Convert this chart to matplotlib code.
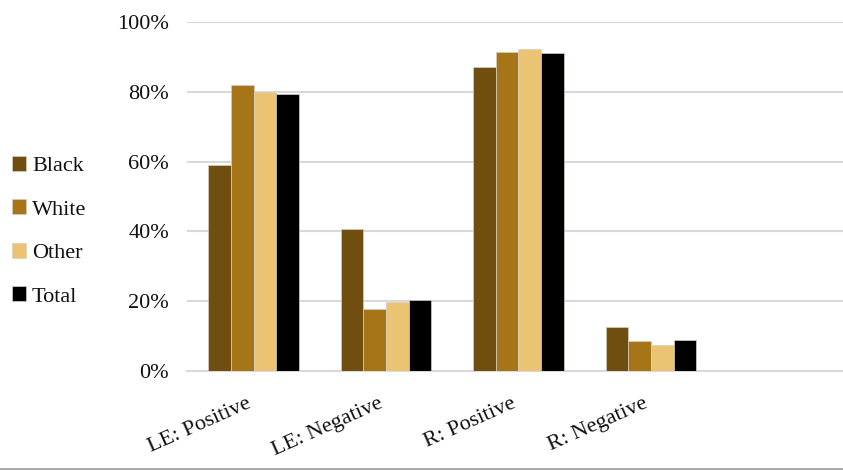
import numpy as np
import matplotlib
matplotlib.use("Agg")
import matplotlib.pyplot as plt
from matplotlib.lines import Line2D
from matplotlib.ticker import PercentFormatter

plt.rcParams['font.family'] = ['Liberation Serif', 'DejaVu Serif']

# data
categories = ['LE: Positive', 'LE: Negative', 'R: Positive', 'R: Negative']
black = [0.589, 0.408, 0.871, 0.126]
white = [0.819, 0.178, 0.913, 0.085]
other = [0.799, 0.199, 0.923, 0.075]
total = [0.793, 0.204, 0.911, 0.088]

series = [('Black', black, '#6F4E0F'),
          ('White', white, '#A57518'),
          ('Other', other, '#EAC473'),
          ('Total', total, '#000000')]

fig = plt.figure(figsize=(8.43, 4.70), dpi=100)
ax = fig.add_axes([187.3 / 843, 99 / 470, 1 - 187.3 / 843, 349 / 470])

x = np.arange(len(categories))
w = 0.171
for i, (name, vals, col) in enumerate(series):
    ax.bar(x + (i - 1.5) * w, vals, w, color=col, label=name,
           edgecolor='#d8cfc0', linewidth=0.5, zorder=3)

ax.set_ylim(0, 1)
ax.set_xlim(-0.5, 4.45)
ax.yaxis.set_major_formatter(PercentFormatter(1.0, decimals=0))
ax.set_yticks(np.arange(0, 1.01, 0.2))
ax.grid(axis='y', color='#D9D9D9', linewidth=1.5, zorder=0)
ax.set_xticks(x)
ax.set_xticklabels(categories, rotation=24, ha='right')
ax.tick_params(axis='both', length=0, labelsize=16, colors='#111111')
ax.tick_params(axis='y', pad=13)
ax.tick_params(axis='x', pad=17)
for s in ['top', 'right', 'left']:
    ax.spines[s].set_visible(False)
ax.spines['bottom'].set_color('#D9D9D9')
ax.spines['bottom'].set_linewidth(1.5)

fig.legend(loc='center left', bbox_to_anchor=(12 / 843, 0.508), frameon=False,
           fontsize=16, handlelength=0.65, handleheight=0.65, handletextpad=0.25,
           labelspacing=1.05, borderaxespad=0, borderpad=0, labelcolor='#111111')

fig.add_artist(Line2D([0, 1], [1.5 / 470, 1.5 / 470], color='#999999', linewidth=1.2,
                      transform=fig.transFigure))

fig.savefig('out.png', dpi=100)
